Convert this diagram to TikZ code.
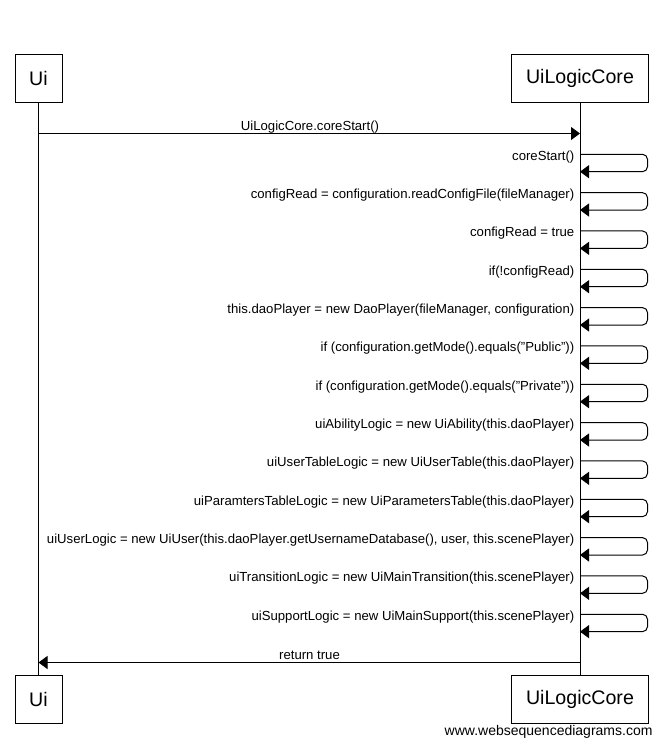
\documentclass[tikz,border=0pt]{standalone}
\usepackage{fontspec}
\setmainfont{Liberation Sans}
\usetikzlibrary{arrows.meta}
\begin{document}
\begin{tikzpicture}[x=1pt,y=-1pt,
  part/.style={draw, line width=1pt, fill=white, font=\fontsize{19.6}{22}\selectfont, inner sep=0pt, minimum height=48pt},
  lbl/.style={font=\fontsize{13.15}{15}\selectfont, inner sep=0pt},
  msg/.style={line width=1pt, -{Triangle[length=9pt,width=13pt]}},
  selfmsg/.style={msg, rounded corners=5pt},
  life/.style={line width=1pt}]
\useasboundingbox[fill=white] (0,0) rectangle (663,748);
% participants
\node[part, minimum width=47pt] (uiT) at (38.5,78) {Ui};
\node[part, minimum width=136.5pt] (coreT) at (580,78) {UiLogicCore};
\node[part, minimum width=47pt] (uiB) at (38.5,699.5) {Ui};
\node[part, minimum width=136.5pt] (coreB) at (580,699.5) {UiLogicCore};
% lifelines
\draw[life] (uiT) -- (uiB);
\draw[life] (coreT) -- (coreB);
% first call
\coordinate (m1s) at (38.5,133.5);
\coordinate (m1e) at (580,133.5);
\draw[msg] (m1s) -- (m1e);
\node[lbl, anchor=base] (m1l) at (310,130) {UiLogicCore.coreStart()};
% self calls
\foreach \lab [count=\k from 0] in {
  {coreStart()},
  {configRead = configuration.readConfigFile(fileManager)},
  {configRead = true},
  {if(!configRead)},
  {this.daoPlayer = new DaoPlayer(fileManager, configuration)},
  {if (configuration.getMode().equals("Public"))},
  {if (configuration.getMode().equals("Private"))},
  {uiAbilityLogic = new UiAbility(this.daoPlayer)},
  {uiUserTableLogic = new UiUserTable(this.daoPlayer)},
  {uiParamtersTableLogic = new UiParametersTable(this.daoPlayer)},
  {uiUserLogic = new UiUser(this.daoPlayer.getUsernameDatabase(), user, this.scenePlayer)},
  {uiTransitionLogic = new UiMainTransition(this.scenePlayer)},
  {uiSupportLogic = new UiMainSupport(this.scenePlayer)}}
{
  \pgfmathsetmacro\yt{154.3+38.33*\k}
  \pgfmathsetmacro\yb{\yt+17.4}
  \coordinate (s\k) at (580,\yt);
  \coordinate (e\k) at (580,\yb);
  \draw[selfmsg] (s\k) -- (647.5,\yt) -- (647.5,\yb) -- (e\k);
  \node[lbl, anchor=base east] (l\k) at (574.5,\yt+6) {\lab};
}
% return
\coordinate (r1) at (580,662.5);
\coordinate (r2) at (38.5,662.5);
\draw[msg] (r1) -- (r2);
\node[lbl, anchor=base] (rl) at (309.5,659) {return true};
% footer
\node[font=\fontsize{14}{16}\selectfont, inner sep=0pt, anchor=base east] (wsd) at (652.7,735.7) {www.websequencediagrams.com};
\end{tikzpicture}
\end{document}
